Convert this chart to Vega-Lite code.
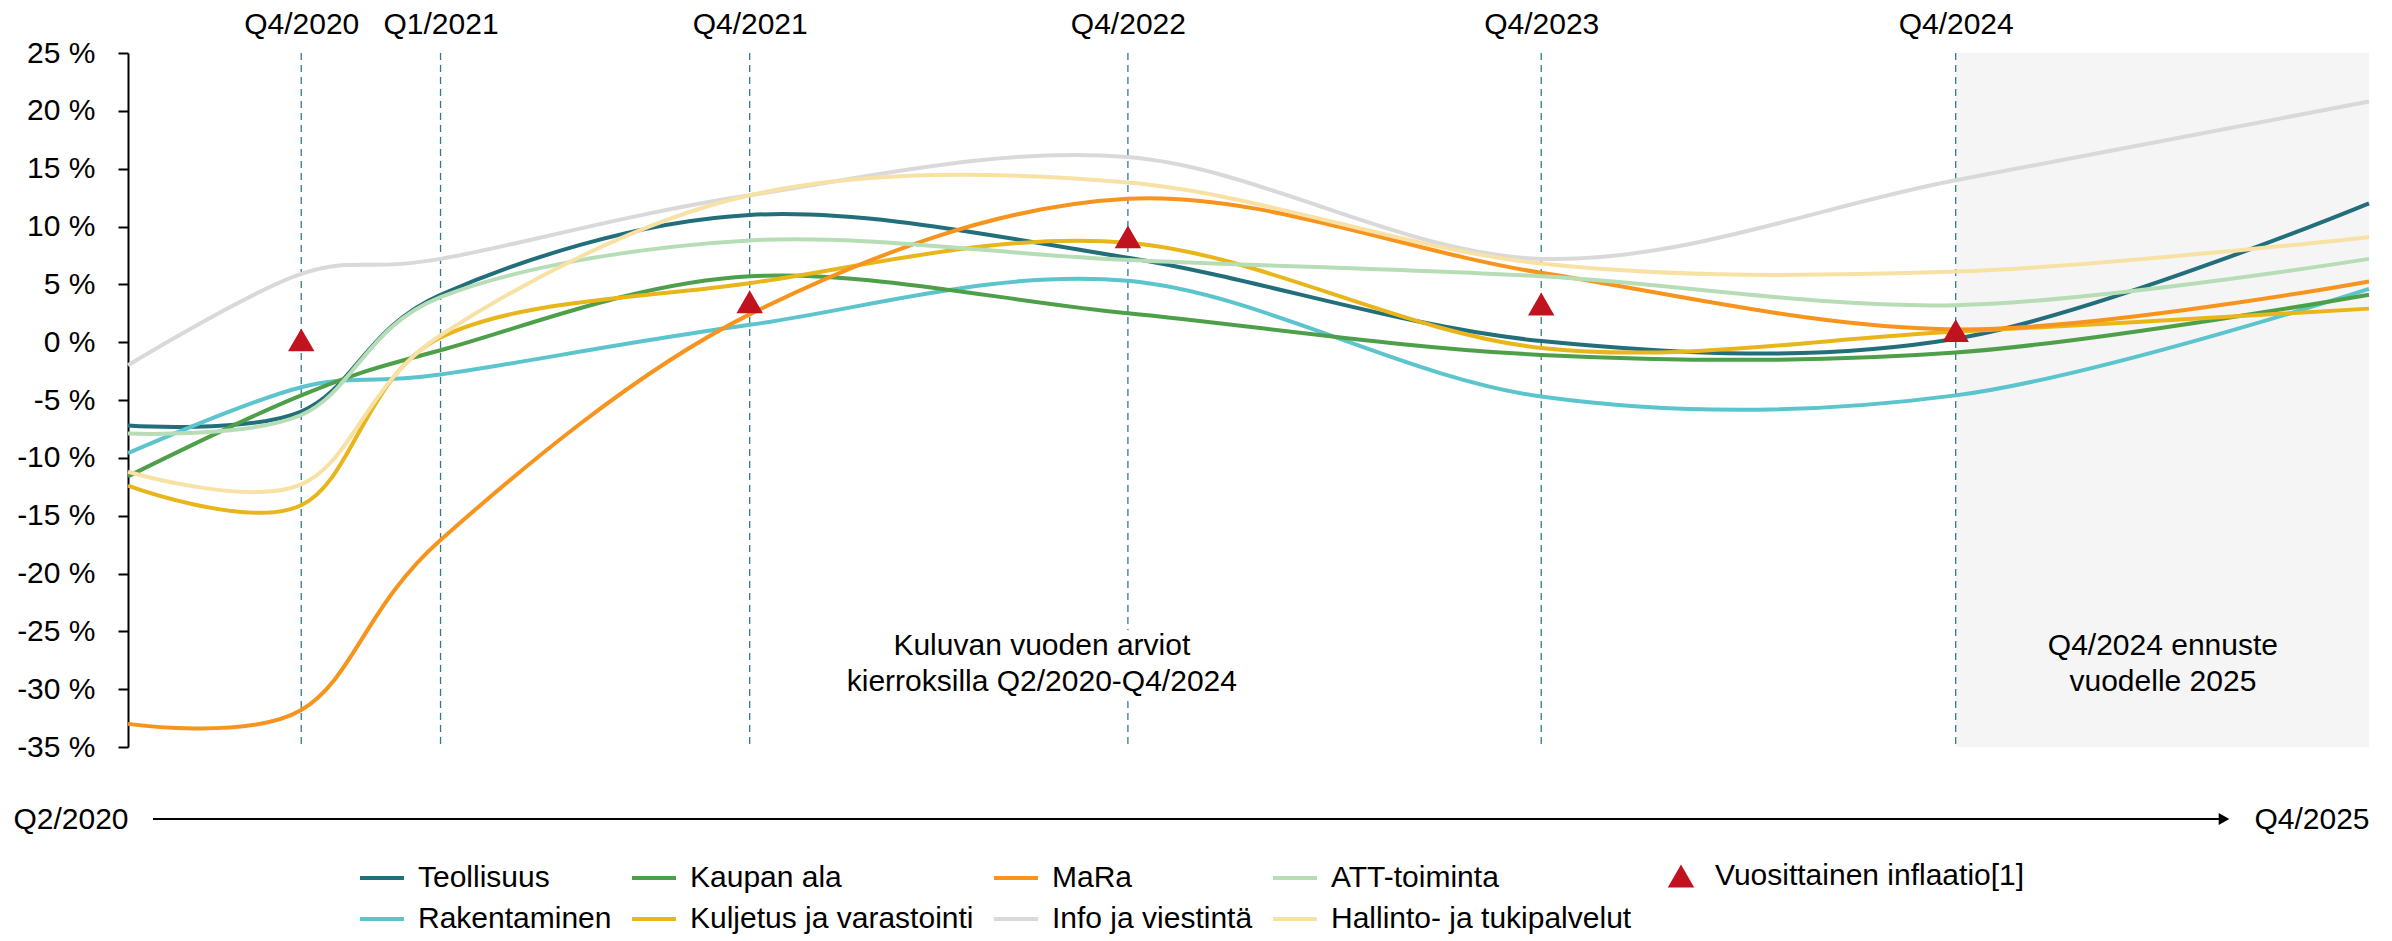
{
  "$schema": "https://vega.github.io/schema/vega-lite/v6.json",
  "width": 2241,
  "height": 694,
  "autosize": {"type": "none"},
  "padding": {"left": 128, "top": 53, "right": 23, "bottom": 194},
  "background": "white",
  "datasets": {
    "lines": [
      {"s": "Teollisuus", "d": "2020-05-01", "v": -7.2},
      {"s": "Teollisuus", "d": "2020-10-01", "v": -6.0},
      {"s": "Teollisuus", "d": "2021-02-01", "v": 4.1},
      {"s": "Teollisuus", "d": "2021-11-01", "v": 11.0},
      {"s": "Teollisuus", "d": "2022-10-01", "v": 7.3},
      {"s": "Teollisuus", "d": "2023-10-01", "v": 0.1},
      {"s": "Teollisuus", "d": "2024-10-01", "v": 0.3},
      {"s": "Teollisuus", "d": "2025-10-01", "v": 12.0},
      {"s": "Rakentaminen", "d": "2020-05-01", "v": -9.6},
      {"s": "Rakentaminen", "d": "2020-10-01", "v": -3.9},
      {"s": "Rakentaminen", "d": "2021-02-01", "v": -2.8},
      {"s": "Rakentaminen", "d": "2021-11-01", "v": 1.5},
      {"s": "Rakentaminen", "d": "2022-10-01", "v": 5.3},
      {"s": "Rakentaminen", "d": "2023-10-01", "v": -4.7},
      {"s": "Rakentaminen", "d": "2024-10-01", "v": -4.6},
      {"s": "Rakentaminen", "d": "2025-10-01", "v": 4.6},
      {"s": "Kaupan ala", "d": "2020-05-01", "v": -11.6},
      {"s": "Kaupan ala", "d": "2020-10-01", "v": -4.6},
      {"s": "Kaupan ala", "d": "2021-02-01", "v": -0.7},
      {"s": "Kaupan ala", "d": "2021-11-01", "v": 5.7},
      {"s": "Kaupan ala", "d": "2022-10-01", "v": 2.5},
      {"s": "Kaupan ala", "d": "2023-10-01", "v": -1.1},
      {"s": "Kaupan ala", "d": "2024-10-01", "v": -0.9},
      {"s": "Kaupan ala", "d": "2025-10-01", "v": 4.1},
      {"s": "Kuljetus ja varastointi", "d": "2020-05-01", "v": -12.4},
      {"s": "Kuljetus ja varastointi", "d": "2020-10-01", "v": -14.1},
      {"s": "Kuljetus ja varastointi", "d": "2021-02-01", "v": 0.4},
      {"s": "Kuljetus ja varastointi", "d": "2021-11-01", "v": 5.1},
      {"s": "Kuljetus ja varastointi", "d": "2022-10-01", "v": 8.6},
      {"s": "Kuljetus ja varastointi", "d": "2023-10-01", "v": -0.5},
      {"s": "Kuljetus ja varastointi", "d": "2024-10-01", "v": 0.9},
      {"s": "Kuljetus ja varastointi", "d": "2025-10-01", "v": 2.9},
      {"s": "MaRa", "d": "2020-05-01", "v": -33.0},
      {"s": "MaRa", "d": "2020-10-01", "v": -31.8},
      {"s": "MaRa", "d": "2021-02-01", "v": -17.1},
      {"s": "MaRa", "d": "2021-11-01", "v": 2.4},
      {"s": "MaRa", "d": "2022-10-01", "v": 12.4},
      {"s": "MaRa", "d": "2023-10-01", "v": 6.0},
      {"s": "MaRa", "d": "2024-10-01", "v": 1.1},
      {"s": "MaRa", "d": "2025-10-01", "v": 5.25},
      {"s": "Info ja viestintä", "d": "2020-05-01", "v": -2.0},
      {"s": "Info ja viestintä", "d": "2020-10-01", "v": 5.9},
      {"s": "Info ja viestintä", "d": "2021-02-01", "v": 7.2},
      {"s": "Info ja viestintä", "d": "2021-11-01", "v": 12.7},
      {"s": "Info ja viestintä", "d": "2022-10-01", "v": 16.0},
      {"s": "Info ja viestintä", "d": "2023-10-01", "v": 7.2},
      {"s": "Info ja viestintä", "d": "2024-10-01", "v": 14.0},
      {"s": "Info ja viestintä", "d": "2025-10-01", "v": 20.8},
      {"s": "ATT-toiminta", "d": "2020-05-01", "v": -7.9},
      {"s": "ATT-toiminta", "d": "2020-10-01", "v": -6.3},
      {"s": "ATT-toiminta", "d": "2021-02-01", "v": 3.9},
      {"s": "ATT-toiminta", "d": "2021-11-01", "v": 8.8},
      {"s": "ATT-toiminta", "d": "2022-10-01", "v": 7.1},
      {"s": "ATT-toiminta", "d": "2023-10-01", "v": 5.7},
      {"s": "ATT-toiminta", "d": "2024-10-01", "v": 3.2},
      {"s": "ATT-toiminta", "d": "2025-10-01", "v": 7.2},
      {"s": "Hallinto- ja tukipalvelut", "d": "2020-05-01", "v": -11.2},
      {"s": "Hallinto- ja tukipalvelut", "d": "2020-10-01", "v": -12.3},
      {"s": "Hallinto- ja tukipalvelut", "d": "2021-02-01", "v": 0.6},
      {"s": "Hallinto- ja tukipalvelut", "d": "2021-11-01", "v": 12.7},
      {"s": "Hallinto- ja tukipalvelut", "d": "2022-10-01", "v": 13.8},
      {"s": "Hallinto- ja tukipalvelut", "d": "2023-10-01", "v": 6.8},
      {"s": "Hallinto- ja tukipalvelut", "d": "2024-10-01", "v": 6.1},
      {"s": "Hallinto- ja tukipalvelut", "d": "2025-10-01", "v": 9.1}
    ],
    "inflation": [
      {"d": "2020-10-01", "v": 0.2},
      {"d": "2021-11-01", "v": 3.5},
      {"d": "2022-10-01", "v": 9.1},
      {"d": "2023-10-01", "v": 3.3},
      {"d": "2024-10-01", "v": 1.0}
    ],
    "rounds": [
      {"d": "2020-10-01"},
      {"d": "2021-02-01"},
      {"d": "2021-11-01"},
      {"d": "2022-10-01"},
      {"d": "2023-10-01"},
      {"d": "2024-10-01"}
    ],
    "forecast": [
      {"a": "2024-10-01", "b": "2025-10-01"}
    ],
    "timeline": [
      {"a": "2020-05-01", "b": "2025-10-01", "v": -35}
    ],
    "notes": [
      {"d": "2022-07-17", "v": -26.25, "t": "Kuluvan vuoden arviot\nkierroksilla Q2/2020-Q4/2024", "box": true},
      {"d": "2025-04-02", "v": -26.25, "t": "Q4/2024 ennuste\nvuodelle 2025", "box": false}
    ]
  },
  "layer": [
    {
      "data": {"name": "forecast"},
      "mark": {"type": "rect", "color": "#f5f5f5"},
      "encoding": {
        "x": {"field": "a", "type": "temporal", "scale": {"type": "utc"}, "axis": null},
        "x2": {"field": "b"}
      }
    },
    {
      "data": {"name": "rounds"},
      "mark": {"type": "rule", "color": "#2e7d8a", "strokeWidth": 1.3, "strokeDash": [7, 5]},
      "encoding": {
        "x": {
          "field": "d", "type": "temporal", "scale": {"type": "utc"},
          "axis": {
            "orient": "top",
            "values": [
              {"year": 2020, "month": 10, "date": 1, "utc": true},
              {"year": 2021, "month": 2, "date": 1, "utc": true},
              {"year": 2021, "month": 11, "date": 1, "utc": true},
              {"year": 2022, "month": 10, "date": 1, "utc": true},
              {"year": 2023, "month": 10, "date": 1, "utc": true},
              {"year": 2024, "month": 10, "date": 1, "utc": true}
            ],
            "labelExpr": "'Q' + utcquarter(datum.value) + '/' + utcyear(datum.value)",
            "domain": false, "ticks": false, "tickSize": 0, "grid": false,
            "labelAlign": "center", "labelBaseline": "alphabetic", "labelPadding": 20,
            "labelFlush": false, "labelOverlap": false, "title": null
          }
        }
      }
    },
    {
      "mark": {"type": "rule", "color": "#000000", "strokeWidth": 2},
      "encoding": {"y": {"datum": 0, "type": "quantitative"}}
    },
    {
      "data": {"name": "lines"},
      "mark": {"type": "line", "interpolate": "cardinal", "strokeWidth": 4},
      "encoding": {
        "x": {
          "field": "d", "type": "temporal",
          "scale": {"type": "utc", "nice": false, "domain": [
            {"year": 2020, "month": 5, "date": 1, "utc": true},
            {"year": 2025, "month": 10, "date": 1, "utc": true}
          ]},
          "axis": {
            "orient": "bottom",
            "values": [
              {"year": 2020, "month": 5, "date": 1, "utc": true},
              {"year": 2025, "month": 10, "date": 1, "utc": true}
            ],
            "labelExpr": "utcyear(datum.value) < 2023 ? 'Q2/2020' : 'Q4/2025'",
            "domain": false, "ticks": false, "tickSize": 0, "grid": false,
            "labelAlign": "right", "labelBaseline": "middle", "labelPadding": 72,
            "labelFlush": false, "labelOverlap": false, "title": null
          }
        },
        "y": {
          "field": "v", "type": "quantitative", "title": null,
          "scale": {"domain": [-35, 25], "nice": false, "zero": false},
          "axis": {
            "values": [-35, -30, -25, -20, -15, -10, -5, 0, 5, 10, 15, 20, 25],
            "labelExpr": "datum.value + ' %'",
            "domain": true, "domainColor": "#000000", "domainWidth": 2,
            "ticks": true, "tickColor": "#000000", "tickWidth": 2, "tickSize": 10,
            "labelPadding": 23, "grid": false, "title": null
          }
        },
        "color": {
          "field": "s", "type": "nominal",
          "scale": {
            "domain": ["Teollisuus", "Kaupan ala", "MaRa", "ATT-toiminta", "Rakentaminen", "Kuljetus ja varastointi", "Info ja viestintä", "Hallinto- ja tukipalvelut"],
            "range": ["#226e7a", "#4e9f4a", "#f7941d", "#b7ddb7", "#5bc4cc", "#e8b51a", "#d9d9d9", "#f7e1a4"]
          },
          "legend": {
            "title": null, "orient": "none", "legendX": 230, "legendY": 801,
            "direction": "horizontal", "columns": 4,
            "symbolType": "stroke", "symbolSize": 1936, "symbolStrokeWidth": 4,
            "labelFontSize": 30, "labelColor": "#000000", "labelOffset": 12,
            "columnPadding": 12, "rowPadding": 2, "labelLimit": 0, "padding": 0
          }
        }
      }
    },
    {
      "data": {"name": "inflation"},
      "mark": {"type": "point", "shape": "triangle-up", "filled": true, "size": 700, "color": "#c1121f", "opacity": 1},
      "encoding": {
        "x": {"field": "d", "type": "temporal", "scale": {"type": "utc"}, "axis": null},
        "y": {"field": "v", "type": "quantitative", "title": null},
        "shape": {
          "datum": "Vuosittainen inflaatio[1]", "type": "nominal",
          "scale": {"range": ["triangle-up"]},
          "legend": {
            "title": null, "orient": "none", "legendX": 1538, "legendY": 808,
            "symbolSize": 700, "symbolFillColor": "#c1121f", "symbolStrokeColor": "#c1121f",
            "symbolStrokeWidth": 0, "labelFontSize": 30, "labelColor": "#000000",
            "labelOffset": 19, "labelLimit": 0, "padding": 0
          }
        }
      }
    },
    {
      "data": {"name": "notes"},
      "transform": [{"filter": "datum.box"}],
      "mark": {"type": "text", "fontSize": 30, "color": "#ffffff", "stroke": "#ffffff", "strokeWidth": 18, "strokeJoin": "round", "align": "center", "baseline": "middle", "lineBreak": "\n", "lineHeight": 36},
      "encoding": {
        "x": {"field": "d", "type": "temporal", "scale": {"type": "utc"}, "axis": null},
        "y": {"field": "v", "type": "quantitative", "title": null},
        "text": {"field": "t"}
      }
    },
    {
      "data": {"name": "notes"},
      "mark": {"type": "text", "fontSize": 30, "color": "#000000", "align": "center", "baseline": "middle", "lineBreak": "\n", "lineHeight": 36},
      "encoding": {
        "x": {"field": "d", "type": "temporal", "scale": {"type": "utc"}, "axis": null},
        "y": {"field": "v", "type": "quantitative", "title": null},
        "text": {"field": "t"}
      }
    },
    {
      "data": {"name": "timeline"},
      "mark": {"type": "rule", "color": "#000000", "strokeWidth": 2, "xOffset": 25, "x2Offset": -143, "yOffset": 72},
      "encoding": {
        "x": {"field": "a", "type": "temporal", "scale": {"type": "utc"}, "axis": null},
        "x2": {"field": "b"},
        "y": {"field": "v", "type": "quantitative", "title": null}
      }
    },
    {
      "data": {"name": "timeline"},
      "mark": {"type": "point", "shape": "triangle-right", "filled": true, "size": 150, "color": "#000000", "opacity": 1, "xOffset": -145, "yOffset": 72},
      "encoding": {
        "x": {"field": "b", "type": "temporal", "scale": {"type": "utc"}, "axis": null},
        "y": {"field": "v", "type": "quantitative", "title": null}
      }
    }
  ],
  "resolve": {"axis": {"x": "independent"}},
  "config": {
    "view": {"stroke": null},
    "font": "Liberation Sans",
    "axis": {"labelFont": "Liberation Sans", "labelFontSize": 30, "labelColor": "#000000"},
    "legend": {"labelFont": "Liberation Sans"},
    "text": {"font": "Liberation Sans"}
  }
}
